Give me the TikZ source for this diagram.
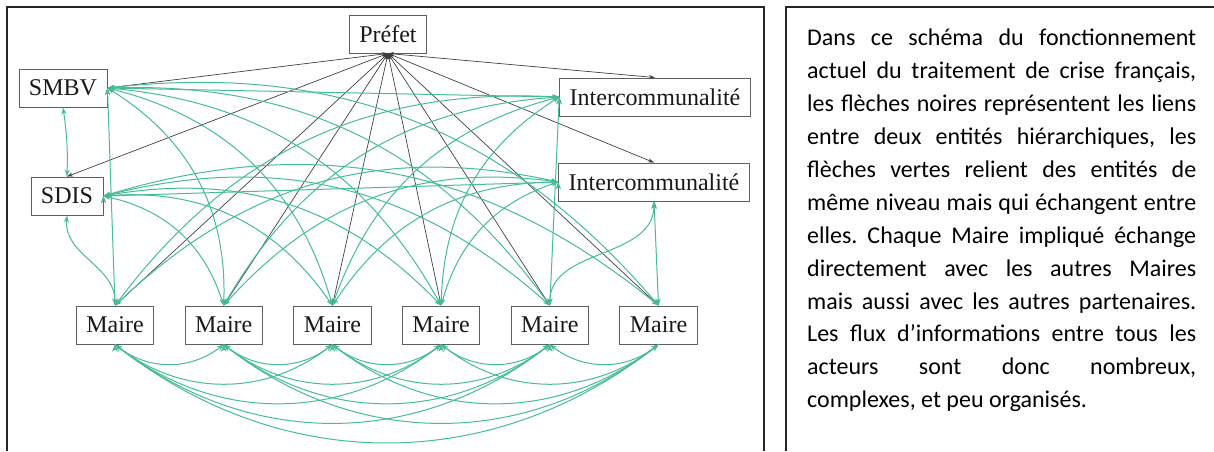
\documentclass[tikz,border=0pt]{standalone}
\usepackage{fontspec}
\setmainfont{Liberation Serif}
\newfontfamily\textecourant{Carlito}
\usetikzlibrary{arrows.meta}
\usetikzlibrary{positioning}
\definecolor{vertlien}{RGB}{70,188,152}
\definecolor{grisbord}{RGB}{95,95,95}
\frenchspacing
\tikzset{
entite/.style={
	rectangle,
	draw=grisbord,
	line width=0.9pt,
	fill=white,
	minimum height=38pt,
	inner xsep=10pt,
	inner ysep=2pt,
	text=black!90,
	font=\fontsize{24}{27}\selectfont
},
lienvert/.style={
	draw=vertlien,
	line width=1pt,
	{Stealth[length=7pt,width=5pt]}-{Stealth[length=7pt,width=5pt]}
},
liennoir/.style={
	draw=black!75,
	line width=0.7pt,
	{Stealth[length=6pt,width=4pt]}-{Stealth[length=6pt,width=4pt]}
},
cadre/.style={
	draw=black!85,
	line width=1.4pt
}
}

\begin{document}
\begin{tikzpicture}[x=1pt, y=1pt, node distance=30.5pt]

\useasboundingbox (0,0) rectangle (1214,-451);
\draw [cadre] (7,-451) -- (7,-7) -- (764,-7) -- (764,-451);
\draw [cadre] (786,-451) -- (786,-7) -- (1214,-7);

\node (prefet) [entite] at (388,-34) {Préfet};
\node (smbv)   [entite] at (63,-88) {SMBV};
\node (sdis)   [entite] at (67,-196) {SDIS};
\node (inter1) [entite] at (655,-97) {Intercommunalité};
\node (inter2) [entite] at (654,-182) {Intercommunalité};

\node (m1) [entite] at (115,-325) {Maire};
\node (m2) [entite, right=of m1] {Maire};
\node (m3) [entite, right=of m2] {Maire};
\node (m4) [entite, right=of m3] {Maire};
\node (m5) [entite, right=of m4] {Maire};
\node (m6) [entite, right=of m5] {Maire};

\draw [liennoir] (prefet.south) edge (smbv.east) edge (sdis.north) edge (inter1.north) edge (inter2.north)
	edge (m1.north) edge (m2.north) edge (m3.north) edge (m4.north) edge (m5.north) edge (m6.north);

\draw [lienvert] (smbv.east) edge (inter1.west) edge (m1.north)
	edge[bend left=30] (m2.north) edge[bend left=30] (m3.north) edge[bend left=28] (m4.north)
	edge[bend left=28] (m5.north) edge[bend left=28] (m6.north);
\draw [lienvert] (smbv.south) to[bend left=5] (sdis.north);

\draw [lienvert] (sdis.east) edge (inter2.west)
	edge[bend left=30] (m2.north) edge[bend left=30] (m3.north) edge[bend left=28] (m4.north)
	edge[bend left=28] (m5.north) edge[bend left=28] (m6.north);
\draw [lienvert] (sdis.south) to[out=-95, in=90] (m1.north);

\draw [lienvert] (inter1.west) edge[bend right=28] (m1.north) edge[bend right=28] (m2.north)
	edge[bend right=28] (m3.north) edge[bend right=28] (m4.north) edge (m5.north);
\draw [lienvert] (inter2.west) edge[bend right=28] (m1.north) edge[bend right=28] (m2.north)
	edge[bend right=28] (m3.north) edge[bend right=28] (m4.north);
\draw [lienvert] (inter2.south) edge[out=-90, in=90] (m5.north) edge (m6.north);

\draw [lienvert] (m1.south) edge[bend right=38] (m2.south) edge[bend right=38] (m3.south)
	edge[bend right=38] (m4.south) edge[bend right=38] (m5.south) edge[bend right=38] (m6.south);
\draw [lienvert] (m2.south) edge[bend right=38] (m3.south) edge[bend right=38] (m4.south)
	edge[bend right=38] (m5.south) edge[bend right=38] (m6.south);
\draw [lienvert] (m3.south) edge[bend right=38] (m4.south) edge[bend right=38] (m5.south)
	edge[bend right=38] (m6.south);
\draw [lienvert] (m4.south) edge[bend right=38] (m5.south) edge[bend right=38] (m6.south);
\draw [lienvert] (m5.south) edge[bend right=38] (m6.south);

\node (texte) [anchor=north west, text width=389pt, align=justify, inner sep=0pt,
	font=\textecourant\fontsize{24}{32.9}\selectfont] at (807,-29)
	{Dans ce schéma du fonctionnement\linebreak
	actuel du traitement de crise français,\linebreak
	les flèches noires représentent les liens\linebreak
	entre deux entités hiérarchiques, les\linebreak
	flèches vertes relient des entités de\linebreak
	même niveau mais qui échangent entre\linebreak
	elles. Chaque Maire impliqué échange\linebreak
	directement avec les autres Maires\linebreak
	mais aussi avec les autres partenaires.\linebreak
	Les flux d’informations entre tous les\linebreak
	acteurs sont donc nombreux,\linebreak
	complexes, et peu organisés.};

\end{tikzpicture}
\end{document}
